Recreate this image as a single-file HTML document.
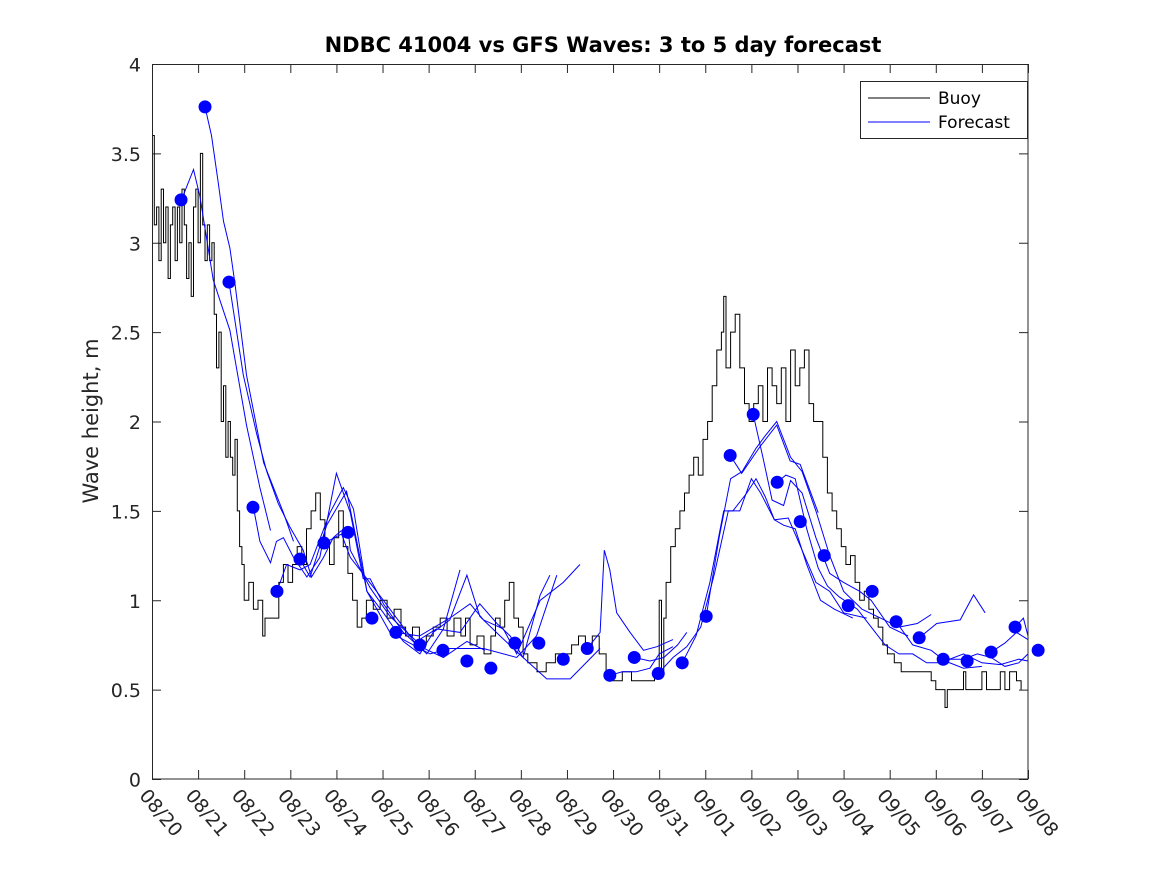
<!DOCTYPE html>
<html><head><meta charset="utf-8"><style>
html,body{margin:0;padding:0;background:#fff;}
svg{display:block;font-family:"DejaVu Sans","Liberation Sans",sans-serif;}
</style></head><body>
<svg id="chart" width="1167" height="875" viewBox="0 0 1167 875" xmlns="http://www.w3.org/2000/svg">
<rect width="1167" height="875" fill="#fff"/>
<text x="603" y="52" text-anchor="middle" font-size="21" font-weight="bold" fill="#000">NDBC 41004 vs GFS Waves: 3 to 5 day forecast</text>
<text transform="translate(98,421) rotate(-90)" text-anchor="middle" font-size="21" fill="#262626">Wave height, m</text>
<g id="grid"></g>
<g id="marks"></g>
<rect x="152.5" y="64.5" width="875.5" height="714.5" fill="none" stroke="#262626" stroke-width="1"/>
<g id="legend">
<rect x="860.5" y="81.5" width="167" height="57" fill="#fff" stroke="#262626"/>
<line x1="868" y1="98" x2="930" y2="98" stroke="#000" stroke-width="1"/>
<text x="938" y="104" font-size="17" fill="#000">Buoy</text>
<line x1="868" y1="122" x2="930" y2="122" stroke="#00f" stroke-width="1"/>
<text x="938" y="128" font-size="17" fill="#000">Forecast</text>
</g>
</svg>
<script>
const xTickLabels=["08/20","08/21","08/22","08/23","08/24","08/25","08/26","08/27","08/28","08/29","08/30","08/31","09/01","09/02","09/03","09/04","09/05","09/06","09/07","09/08"];
const yTicks=[0,0.5,1,1.5,2,2.5,3,3.5,4];
const yTickLabels=["0","0.5","1","1.5","2","2.5","3","3.5","4"];
const buoyDays=[0.0,0.05,0.1,0.15,0.2,0.25,0.3,0.35,0.4,0.45,0.5,0.55,0.6,0.65,0.7,0.75,0.8,0.85,0.9,0.95,1.0,1.05,1.1,1.15,1.2,1.25,1.3,1.35,1.4,1.45,1.5,1.55,1.6,1.65,1.7,1.75,1.8,1.85,1.9,1.95,2.0,2.1,2.2,2.3,2.4,2.45,2.6,2.75,2.85,2.95,3.05,3.15,3.25,3.35,3.45,3.55,3.65,3.75,3.85,3.95,4.05,4.15,4.25,4.35,4.45,4.55,4.65,4.8,4.95,5.1,5.25,5.4,5.5,5.65,5.8,5.95,6.1,6.25,6.4,6.55,6.7,6.8,6.9,7.05,7.2,7.35,7.45,7.55,7.65,7.75,7.85,7.95,8.05,8.15,8.35,8.55,8.75,8.95,9.1,9.25,9.4,9.55,9.7,9.85,10.0,10.2,10.4,10.6,10.9,11.0,11.05,11.1,11.15,11.25,11.35,11.45,11.55,11.65,11.75,11.85,11.95,12.05,12.15,12.25,12.35,12.4,12.45,12.55,12.65,12.75,12.85,12.95,13.05,13.15,13.25,13.35,13.45,13.55,13.65,13.75,13.85,13.95,14.05,14.15,14.25,14.35,14.45,14.55,14.65,14.75,14.85,14.95,15.05,15.15,15.25,15.35,15.45,15.55,15.65,15.75,15.85,15.95,16.1,16.25,16.5,16.75,16.9,17.0,17.2,17.25,17.4,17.6,17.65,17.8,18.0,18.1,18.25,18.4,18.5,18.6,18.75,18.85];
const buoyVals=[3.6,3.1,3.2,2.9,3.3,3.0,3.2,2.8,3.1,3.2,2.9,3.2,3.0,3.3,3.1,2.8,3.0,2.7,3.2,3.3,3.0,3.5,3.1,2.9,3.1,2.9,3.0,2.6,2.3,2.5,2.0,2.2,1.8,2.0,1.8,1.7,1.9,1.5,1.3,1.2,1.0,1.1,0.95,1.0,0.8,0.9,0.9,1.1,1.2,1.1,1.2,1.3,1.2,1.4,1.5,1.6,1.45,1.3,1.2,1.35,1.5,1.3,1.15,1.0,0.85,0.9,1.0,0.95,1.0,0.9,0.95,0.85,0.8,0.85,0.75,0.8,0.85,0.9,0.8,0.9,0.8,0.9,0.75,0.8,0.7,0.8,0.9,0.85,1.0,1.1,0.9,0.85,0.7,0.65,0.6,0.65,0.7,0.7,0.75,0.8,0.75,0.8,0.7,0.6,0.55,0.6,0.55,0.55,0.6,1.0,0.6,0.9,1.1,1.3,1.4,1.5,1.6,1.7,1.8,1.7,1.9,2.0,2.2,2.4,2.5,2.7,2.3,2.5,2.6,2.3,2.1,2.0,2.1,2.2,2.0,2.3,2.2,2.1,2.3,2.0,2.4,2.2,2.3,2.4,2.1,2.0,2.0,1.8,1.6,1.5,1.4,1.3,1.2,1.25,1.1,1.0,1.05,0.95,0.9,0.85,0.75,0.7,0.65,0.6,0.6,0.6,0.55,0.5,0.4,0.5,0.5,0.6,0.5,0.5,0.6,0.5,0.5,0.6,0.5,0.6,0.55,0.5];
const dotDays=[0.63,1.15,1.67,2.19,2.71,3.21,3.73,4.25,4.77,5.29,5.81,6.31,6.83,7.35,7.87,8.39,8.92,9.44,9.93,10.46,10.98,11.5,12.02,12.54,13.04,13.56,14.06,14.58,15.1,15.62,16.14,16.64,17.16,17.68,18.2,18.72,19.22];
const dotVals=[3.24,3.76,2.78,1.52,1.05,1.23,1.32,1.38,0.90,0.82,0.75,0.72,0.66,0.62,0.76,0.76,0.67,0.73,0.58,0.68,0.59,0.65,0.91,1.81,2.04,1.66,1.44,1.25,0.97,1.05,0.88,0.79,0.67,0.66,0.71,0.85,0.72];
const fcA_d=[1.15,1.29,1.44,1.55,1.69,1.8,2.05,2.42,2.85,3.07];
const fcA_v=[3.76,3.60,3.33,3.12,2.97,2.77,2.26,1.77,1.49,1.33];
const fcB_d=[1.67,1.98,2.27,2.49,2.74,2.99,3.28,3.46,3.72,3.93,4.11];
const fcB_v=[2.78,2.26,1.93,1.72,1.54,1.41,1.28,1.13,1.24,1.35,1.39];
const fcC_d=[0.64,0.9,1.04,1.33,1.69,2.05,2.34,2.57];
const fcC_v=[3.24,3.41,3.26,2.79,2.51,1.98,1.63,1.39];
const fcD_d=[2.2,2.34,2.57,2.7,2.85,3.07,3.36,3.64,4.0,4.3,4.58,4.73,5.02,5.45,5.96,6.32,6.68];
const fcD_v=[1.52,1.33,1.21,1.33,1.35,1.24,1.13,1.24,1.71,1.49,1.12,1.12,0.98,0.82,0.70,0.84,1.17];
const fcE_d=[2.71,2.92,3.21,3.43,3.86,4.15,4.37,4.66,5.02,5.45,5.81,6.1,6.46,6.83,7.11,7.55,8.05,8.56,9.07,9.72];
const fcE_v=[1.05,1.2,1.17,1.2,1.49,1.63,1.51,1.05,0.93,0.77,0.70,0.82,0.89,1.14,0.91,0.80,0.68,0.56,0.56,0.73];
const fcF_d=[3.23,3.43,3.79,4.22,4.66,5.16,6.03,6.46,7.19,7.91,8.34,8.78];
const fcF_v=[1.22,1.13,1.42,1.61,1.05,0.82,0.70,0.73,0.73,0.68,0.80,1.14];
const fcG_d=[3.74,4.11,4.3,4.66,5.02,5.74,6.32,6.83,7.22];
const fcG_v=[1.32,1.37,1.24,1.12,1.0,0.75,0.68,0.77,0.72];
const fcH_d=[4.26,4.3,4.73,5.16,5.74,6.17,6.68,7.11,7.48,7.77,8.05,8.42,8.63];
const fcH_v=[1.38,1.28,1.07,0.91,0.77,0.84,0.82,0.98,0.87,0.80,0.68,1.03,1.14];
const fcI_d=[5.29,5.8,6.46,6.9,7.19,7.62,7.91,8.42,8.92,9.28];
const fcI_v=[0.82,0.8,0.9,0.98,0.89,0.84,0.70,1.0,1.1,1.2];
const fcJ_d=[9.44,9.72,9.81,9.93,10.08,10.37,10.66,10.95,11.3];
const fcJ_v=[0.73,0.82,1.28,1.17,0.93,0.82,0.72,0.74,0.78];
const fcK_d=[9.93,10.2,10.5,10.8,11.0,11.3];
const fcK_v=[0.58,0.6,0.6,0.62,0.7,0.74];
const fcL_d=[10.46,10.8,11.1,11.4,11.6];
const fcL_v=[0.68,0.66,0.68,0.75,0.82];
const fcQ1_d=[11.5,11.8,12.1,12.4,12.6,12.9,13.1,13.3,13.5,13.7,13.95,14.2,14.5,14.8,15.2];
const fcQ1_v=[0.65,0.8,1.1,1.5,1.5,1.6,1.68,1.58,1.45,1.42,1.40,1.2,1.0,0.95,0.9];
const fcQ2_d=[10.98,11.3,11.6,11.9,12.2,12.5,12.75,13.0,13.2,13.5,13.8,14.1,14.4,14.7,15.0,15.5];
const fcQ2_v=[0.59,0.68,0.74,0.85,1.15,1.5,1.5,1.68,1.6,1.45,1.46,1.28,1.1,1.05,0.93,0.9];
const fcQ3_d=[12.02,12.3,12.55,12.8,13.1,13.3,13.55,13.85,14.1,14.4,14.7,15.0,15.4,15.8,16.2,16.6,16.9];
const fcQ3_v=[0.91,1.35,1.68,1.72,1.85,1.92,2.0,1.8,1.72,1.5,1.25,1.05,0.95,0.9,0.85,0.87,0.92];
const fcQ4_d=[12.54,12.79,13.19,13.55,13.84,14.06,14.45];
const fcQ4_v=[1.81,1.71,1.86,1.98,1.78,1.76,1.49];
const fcQ5_d=[13.04,13.25,13.45,13.7,13.85,14.1,14.4,14.7,15.0,15.35,15.6,16.0,16.4];
const fcQ5_v=[2.04,1.8,1.56,1.53,1.67,1.6,1.35,1.15,1.1,1.05,1.0,0.85,0.8];
const fcQ6_d=[13.56,13.75,13.95,14.2,14.45,14.65,14.9,15.3,15.6,15.9,16.2,16.5,16.8,17.3,17.6,18.0];
const fcQ6_v=[1.66,1.7,1.68,1.4,1.18,1.08,1.02,0.95,0.85,0.75,0.7,0.7,0.65,0.65,0.62,0.63];
const fcR1_d=[16.14,16.5,16.9,17.2,17.6,18.0,18.4,18.8,19.0];
const fcR1_v=[0.88,0.75,0.72,0.66,0.70,0.65,0.64,0.67,0.66];
const fcR2_d=[16.64,17.02,17.53,17.82,18.07];
const fcR2_v=[0.79,0.87,0.89,1.03,0.93];
const fcR3_d=[17.16,17.6,17.9,18.2,18.5,18.8,19.0];
const fcR3_v=[0.67,0.67,0.7,0.68,0.63,0.65,0.70];
const fcR4_d=[18.2,18.5,18.75,19.0];
const fcR4_v=[0.71,0.76,0.82,0.78];
const fcR5_d=[18.72,18.9,19.0];
const fcR5_v=[0.85,0.9,0.8];

const X0=152,X1=1028,Y0=779,Y1=64;
function xs(d){return X0+d*(X1-X0)/19;}
function ys(v){return Y0-v*(Y0-Y1)/4;}
const NS="http://www.w3.org/2000/svg";
const grid=document.getElementById('grid'),marks=document.getElementById('marks');
function mk(tag,attrs,parent){const e=document.createElementNS(NS,tag);for(const k in attrs)e.setAttribute(k,attrs[k]);parent.appendChild(e);return e;}
xTickLabels.forEach((lab,i)=>{
  const x=xs(i)+0.5;
  const t1=mk('line',{x1:x,y1:779,x2:x,y2:770,stroke:'#262626'},grid);
  
  
  const t2=mk('line',{x1:x,y1:64,x2:x,y2:73,stroke:'#262626'},grid);
  
  
  const t=mk('text',{transform:'translate('+(x-14)+',796) rotate(50)','font-size':'19',fill:'#262626'},grid);
  t.textContent=lab;
  
  
});
yTicks.forEach((v,i)=>{
  const y=ys(v)+0.5;
  const a=mk('line',{x1:152,y1:y,x2:161,y2:y,stroke:'#262626'},grid);
  
  
  const b=mk('line',{x1:1028,y1:y,x2:1019,y2:y,stroke:'#262626'},grid);
  
  
  const t=mk('text',{x:141,y:y+7,'text-anchor':'end','font-size':'19',fill:'#262626'},grid);
  t.textContent=yTickLabels[i];
  
  
});
let bp='';
buoyDays.forEach((d,i)=>{const x=xs(d).toFixed(1),y=ys(buoyVals[i]).toFixed(1);bp+=(i?(' H'+x+' V'+y):('M'+x+' '+y));});
const buoy=mk('path',{d:bp,fill:'none',stroke:'#000','stroke-width':'1'},marks);


const fcs=[[fcA_d,fcA_v],[fcB_d,fcB_v],[fcC_d,fcC_v],[fcD_d,fcD_v],[fcE_d,fcE_v],[fcF_d,fcF_v],[fcG_d,fcG_v],[fcH_d,fcH_v],[fcI_d,fcI_v],[fcJ_d,fcJ_v],[fcK_d,fcK_v],[fcL_d,fcL_v],[fcQ1_d,fcQ1_v],[fcQ2_d,fcQ2_v],[fcQ3_d,fcQ3_v],[fcQ4_d,fcQ4_v],[fcQ5_d,fcQ5_v],[fcQ6_d,fcQ6_v],[fcR1_d,fcR1_v],[fcR2_d,fcR2_v],[fcR3_d,fcR3_v],[fcR4_d,fcR4_v],[fcR5_d,fcR5_v]];
fcs.forEach(f=>{
  const pts=f[0].map((d,i)=>xs(d).toFixed(1)+','+ys(f[1][i]).toFixed(1)).join(' ');
  const p=mk('polyline',{points:pts,fill:'none',stroke:'#00f','stroke-width':'1'},marks);
  
  
});
dotDays.forEach((d,i)=>{
  const c=mk('circle',{cx:xs(d),cy:ys(dotVals[i]),r:6.5,fill:'#00f'},marks);
  
  
});
</script>
</body></html>
